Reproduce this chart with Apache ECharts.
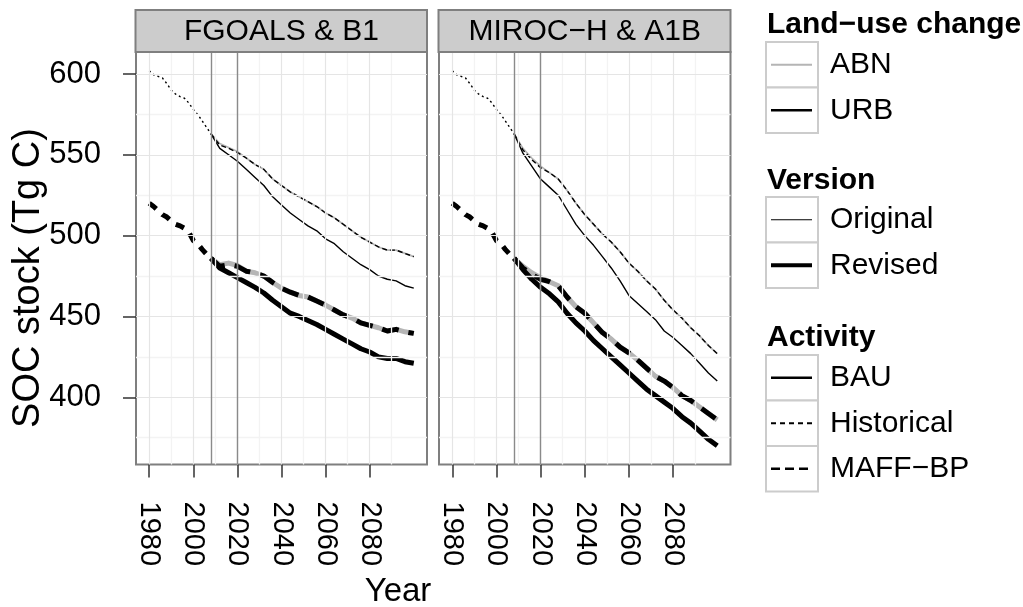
<!DOCTYPE html>
<html>
<head>
<meta charset="utf-8">
<script src="https://cdn.jsdelivr.net/npm/echarts@6/dist/echarts.min.js"></script>
<style>
  html, body { margin: 0; background: #fff; }
  #chart { width: 1023px; height: 607px; }
</style>
</head>
<body>
<div id="chart"></div>
<script>
const FONT = "'Liberation Sans', Arial, sans-serif";

const panelTitles = ['FGOALS & B1', 'MIROC−H & A1B'];
const xTicks = [1980, 2000, 2020, 2040, 2060, 2080];
const xMinor = [1990, 2010, 2030, 2050, 2070, 2090];
const yTicks = [400, 450, 500, 550, 600];
const yMinor = [375, 425, 475, 525, 575];
const periodLines = [2008, 2020];

const histYears = [1980, 1982, 1984, 1986, 1988, 1990, 1992, 1994, 1996, 1998, 2000, 2002, 2004, 2006, 2008];
const histOriginal = [602, 599.5, 598.5, 597.5, 594, 590, 587.5, 586, 585, 582, 578, 575, 571, 567, 563];
const histRevised = [520, 518, 515.5, 513, 511.5, 509, 507, 506, 504.5, 502, 497, 495, 491.5, 488.5, 486];

const projYears = [2008, 2012, 2016, 2020, 2024, 2028, 2032, 2036, 2040, 2044, 2048, 2052,
                   2056, 2060, 2064, 2068, 2072, 2076, 2080, 2084, 2088, 2092, 2096, 2100];

const fgoalsBauOriginal  = [563, 554, 550, 546, 541, 536, 531, 524, 519, 514, 510, 506, 503, 498, 495, 490, 486, 482, 479, 475, 473, 472, 469, 467.5];
const fgoalsMaffOriginal = [563, 556, 554, 551.5, 548, 544, 541, 535, 531, 527, 524, 521, 518, 514, 511, 507, 503, 499, 496, 493, 491, 491, 489, 487];
const fgoalsAbnOriginal  = [563, 557, 554.5, 552, 548, 544, 541, 535, 531, 527, 524, 521, 518, 514, 511, 507, 503, 499, 496, 493, 491, 491, 489, 487];
const fgoalsBauRevised   = [486, 480, 477, 474, 471, 468, 464.5, 460, 456, 452, 450, 447.5, 445, 442, 439, 436, 433, 430, 428, 425, 424, 424, 422, 421];
const fgoalsMaffRevised  = [486, 481, 482, 481, 478, 477, 475, 471, 467.5, 465, 463, 462, 459.5, 457, 454, 451, 449, 446, 444.5, 443, 441, 442, 440.5, 439.5];
const fgoalsAbnRevised   = [486, 482, 483, 481.5, 478, 477, 475, 471, 467.5, 465, 463, 462, 459.5, 457, 454, 451, 449, 446, 444.5, 443, 441, 442, 440.5, 439.5];

const mirocBauOriginal  = [563, 551, 543, 535, 530, 525, 516, 507, 500, 494, 487, 480, 472, 463, 458, 453, 448, 441, 437, 432, 427, 421, 415, 410];
const mirocMaffOriginal = [563, 553, 547, 542, 539, 535, 528, 520, 513, 507, 501, 496, 490, 483, 478, 472, 467, 460, 454, 449, 443, 438, 432, 427];
const mirocAbnOriginal  = [563, 554, 548, 543, 539, 535, 528, 520, 513, 507, 501, 496, 490, 483, 478, 472, 467, 460, 454, 449, 443, 438, 432, 427];
const mirocBauRevised   = [486, 479, 473, 468, 464, 459, 452, 446, 441, 435, 430, 425, 420, 415, 410, 405, 401, 397, 393, 388, 384, 379, 374, 370];
const mirocMaffRevised  = [486, 480, 476, 473, 471.5, 469, 462, 456, 452, 446, 440, 436, 431, 427.5, 423, 418, 413, 410, 406, 401, 398, 394, 390, 386];
const mirocAbnRevised   = [486, 481, 477, 474, 471.5, 469, 462, 456, 452, 446, 440, 436, 431, 427.5, 423, 418, 413, 410, 406, 401, 398, 394, 390, 386];

const panelData = [
    { bauO: fgoalsBauOriginal, maffO: fgoalsMaffOriginal, abnO: fgoalsAbnOriginal,
      bauR: fgoalsBauRevised, maffR: fgoalsMaffRevised, abnR: fgoalsAbnRevised },
    { bauO: mirocBauOriginal, maffO: mirocMaffOriginal, abnO: mirocAbnOriginal,
      bauR: mirocBauRevised, maffR: mirocMaffRevised, abnR: mirocAbnRevised }
];

const GRAY_ABN = '#b5b5b5';
const THIN = 1.4;
const THICK = 5;

const grids = [
    { left: 136, top: 52, width: 291, height: 412.5 },
    { left: 439, top: 52, width: 291.5, height: 412.5 }
];

function pairs(xs, ys) {
    return xs.map((x, i) => [x, ys[i]]);
}

function line(gi, xs, ys, color, width, type, z) {
    return {
        type: 'line', xAxisIndex: gi, yAxisIndex: gi,
        data: pairs(xs, ys), symbol: 'none', silent: true, z: z || 3,
        lineStyle: { color, width, type: type || 'solid', cap: 'butt', join: 'round' }
    };
}

function guideSeries(gi) {
    const minor = { color: '#f3f3f3', width: 1.3, type: 'solid' };
    const major = { color: '#e5e5e5', width: 1.2, type: 'solid' };
    const vline = { color: '#8a8a8a', width: 1.4, type: 'solid' };
    return {
        type: 'line', xAxisIndex: gi, yAxisIndex: gi, z: 1, silent: true,
        data: [[2000, 500]], symbol: 'none', lineStyle: { opacity: 0 },
        markLine: {
            symbol: ['none', 'none'], silent: true, animation: false,
            label: { show: false },
            lineStyle: { type: 'solid' },
            data: [
                ...xMinor.map(v => ({ xAxis: v, lineStyle: minor })),
                ...yMinor.map(v => ({ yAxis: v, lineStyle: minor })),
                ...xTicks.map(v => ({ xAxis: v, lineStyle: major })),
                ...yTicks.map(v => ({ yAxis: v, lineStyle: major })),
                ...periodLines.map(v => ({ xAxis: v, lineStyle: vline }))
            ]
        }
    };
}

const series = [];
panelData.forEach((p, gi) => {
    series.push(guideSeries(gi));
    series.push(line(gi, histYears, histOriginal, '#000', THIN, [2, 3]));
    series.push(line(gi, histYears, histRevised, '#000', THICK, [9, 8]));
    series.push(line(gi, projYears, p.abnO, GRAY_ABN, THIN + 0.3, 'solid', 3));
    series.push(line(gi, projYears, p.bauO, '#000', THIN, 'solid', 4));
    series.push(line(gi, projYears, p.maffO, '#000', THIN, [5, 3], 4));
    series.push(line(gi, projYears, p.abnR, GRAY_ABN, THICK, 'solid', 3));
    series.push(line(gi, projYears, p.bauR, '#000', THICK, 'solid', 4));
    series.push(line(gi, projYears, p.maffR, '#000', THICK, [17, 10], 4));
});

const tickStyle = { color: '#333', width: 1.5 };

const xAxes = grids.map((g, gi) => ({
    gridIndex: gi, type: 'value', min: 1974, max: 2106,
    splitLine: { show: false }, axisLine: { show: false },
    axisTick: { show: true, length: 13, lineStyle: tickStyle, customValues: xTicks },
    axisLabel: {
        customValues: xTicks, rotate: -90, margin: 37, fontSize: 29,
        color: '#000', fontFamily: FONT, formatter: v => String(v)
    }
}));

const yAxes = grids.map((g, gi) => ({
    gridIndex: gi, type: 'value', min: 358.4, max: 613.6,
    splitLine: { show: false }, axisLine: { show: false },
    axisTick: { show: gi === 0, length: 13, lineStyle: tickStyle, customValues: yTicks },
    axisLabel: {
        show: gi === 0, customValues: yTicks, margin: 35, fontSize: 31,
        color: '#000', fontFamily: FONT, formatter: v => String(v)
    }
}));

// facet strips
const graphics = [];
grids.forEach((g, gi) => {
    graphics.push({
        type: 'rect', z: 10,
        shape: { x: g.left - 0.5, y: 10, width: g.width + 0.5, height: 42 },
        style: { fill: '#cccccc', stroke: '#7f7f7f', lineWidth: 2 }
    });
    graphics.push({
        type: 'text', z: 11,
        style: {
            text: panelTitles[gi], x: g.left + g.width / 2, y: 32,
            fontSize: 30, fontFamily: FONT, fill: '#000', align: 'center', verticalAlign: 'middle'
        }
    });
});

// axis titles
graphics.push({
    type: 'text', x: 29, y: 278, rotation: Math.PI / 2,
    style: { text: 'SOC stock (Tg C)', fontSize: 38, fontFamily: FONT, fill: '#000', align: 'center', verticalAlign: 'middle' }
});
graphics.push({
    type: 'text',
    style: { text: 'Year', x: 398, y: 592, fontSize: 33, fontFamily: FONT, fill: '#000', align: 'center', verticalAlign: 'middle' }
});

// legends (ggplot style keys)
const legendSections = [
    { title: 'Land−use change', titleY: 25, top: 42, keys: [
        { label: 'ABN', color: GRAY_ABN, width: 2, dash: 'solid' },
        { label: 'URB', color: '#000', width: 2.6, dash: 'solid' }
    ] },
    { title: 'Version', titleY: 181, top: 197, keys: [
        { label: 'Original', color: '#000', width: 1.2, dash: 'solid' },
        { label: 'Revised', color: '#000', width: 4.2, dash: 'solid' }
    ] },
    { title: 'Activity', titleY: 338, top: 355, keys: [
        { label: 'BAU', color: '#000', width: 2.6, dash: 'solid' },
        { label: 'Historical', color: '#000', width: 2.2, dash: [5, 4] },
        { label: 'MAFF−BP', color: '#000', width: 2.4, dash: [9, 5] }
    ] }
];
const KEY_H = 45.5;
legendSections.forEach(sec => {
    graphics.push({
        type: 'text',
        style: { text: sec.title, x: 767, y: sec.titleY, fontSize: 30, fontWeight: 'bold', fontFamily: FONT, fill: '#000', align: 'left', verticalAlign: 'middle' }
    });
    sec.keys.forEach((k, i) => {
        const y0 = sec.top + i * KEY_H;
        const yc = y0 + KEY_H / 2;
        graphics.push({
            type: 'rect', shape: { x: 766, y: y0, width: 52, height: KEY_H },
            style: { fill: '#fff', stroke: '#cccccc', lineWidth: 2 }
        });
        graphics.push({
            type: 'line', shape: { x1: 771, y1: yc, x2: 812, y2: yc },
            style: { stroke: k.color, lineWidth: k.width, lineDash: k.dash === 'solid' ? null : k.dash }
        });
        graphics.push({
            type: 'text',
            style: { text: k.label, x: 830, y: yc, fontSize: 30, fontFamily: FONT, fill: '#000', align: 'left', verticalAlign: 'middle' }
        });
    });
});

const chart = echarts.init(document.getElementById('chart'), null, { renderer: 'canvas' });
chart.setOption({
    animation: false,
    backgroundColor: '#fff',
    textStyle: { fontFamily: FONT },
    grid: grids.map(g => ({ ...g, show: true, backgroundColor: '#fff', borderColor: '#7f7f7f', borderWidth: 2 })),
    xAxis: xAxes,
    yAxis: yAxes,
    series,
    graphic: graphics
});
</script>
</body>
</html>
